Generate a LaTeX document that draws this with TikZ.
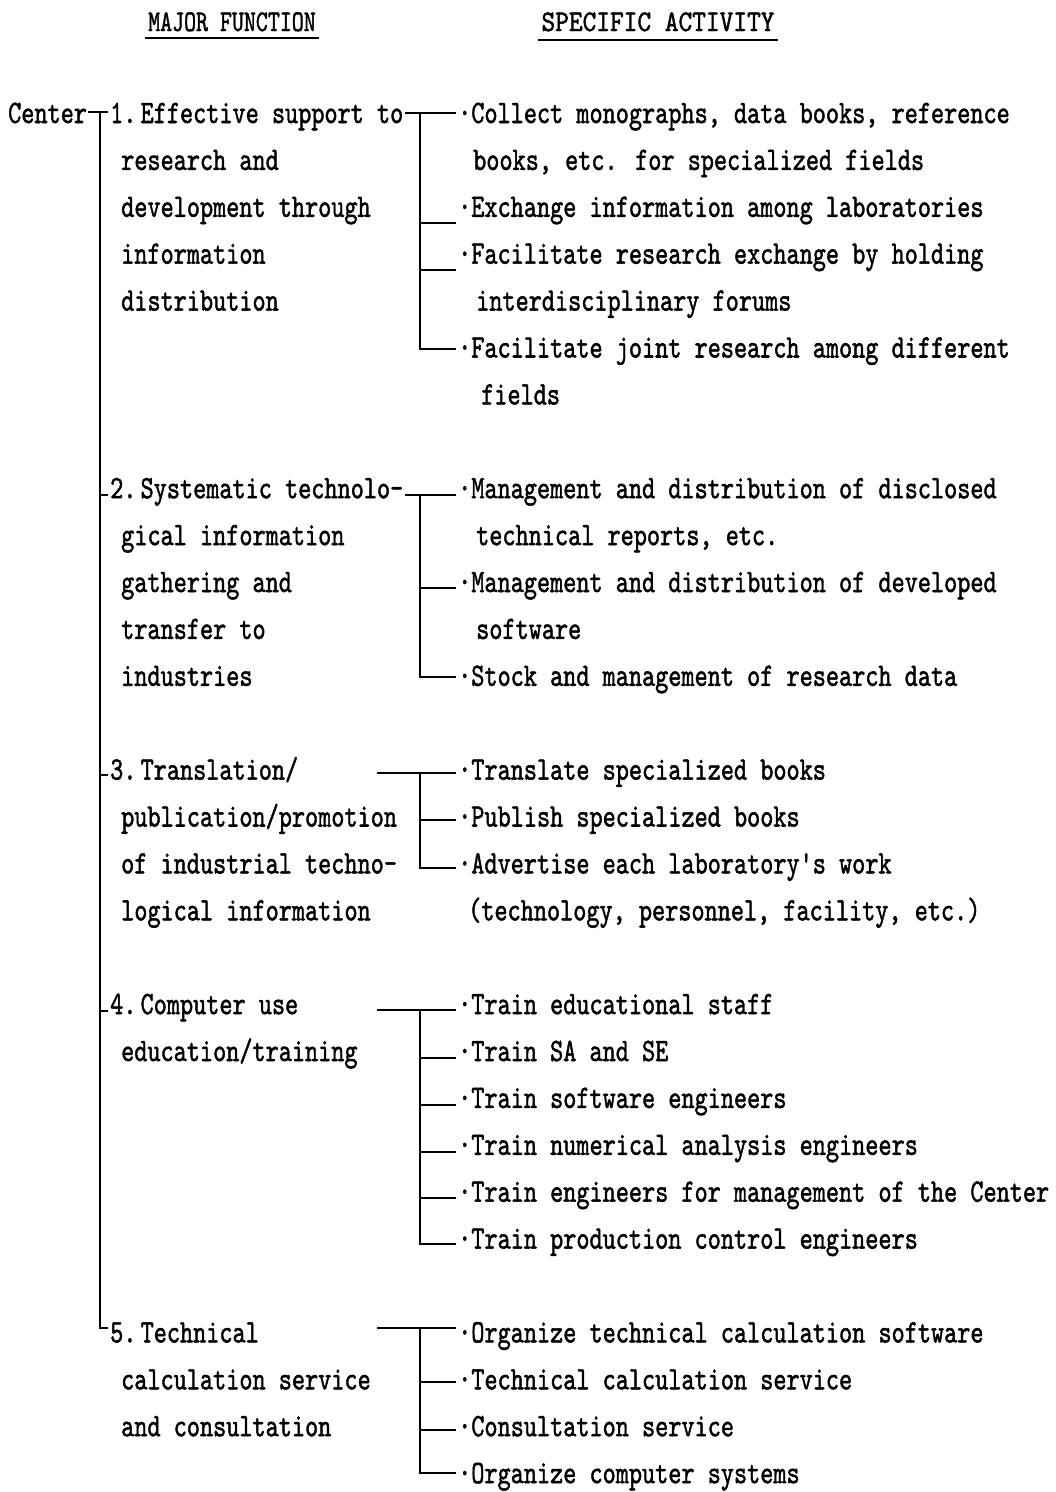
\documentclass[tikz,border=0pt]{standalone}
\usepackage{graphicx}
\usepackage{fontspec}
\newfontfamily\twfont{lmmono10-regular.otf}[FakeBold=1.6]
\newcommand\sx[1]{\scalebox{0.765}[1]{#1}}
\newcommand\hx[2]{\scalebox{#1}[1]{#2}}
\begin{document}
\begin{tikzpicture}[x=1pt,y=-1pt,
  txt/.style={anchor=base west, inner sep=0pt, font=\twfont\fontsize{32.7pt}{36pt}\selectfont},
  hdr/.style={anchor=base, inner sep=0pt, font=\twfont\fontsize{30pt}{32pt}\selectfont},
  vl/.style={line width=2.4pt, line cap=rect},
  hl/.style={line width=1.4pt},
  ul/.style={line width=1.3pt}]
\useasboundingbox (0,0) rectangle (1056,1492);
\fill[white] (0,0) rectangle (1056,1492);

% headers
\node[hdr] (h1) at (232,31) {\hx{0.76}{MAJOR FUNCTION}};
\node[hdr] (h2) at (658,31) {\hx{0.87}{SPECIFIC ACTIVITY}};
\draw[ul] ([shift={(-3pt,-7pt)}]h1.base west) -- ([shift={(3pt,-7pt)}]h1.base east);
\draw[ul] ([shift={(-3pt,-9pt)}]h2.base west) -- ([shift={(3pt,-9pt)}]h2.base east);

% left column
\node[txt] (center) at (8,123) {\sx{Center}};
\node[txt] (f1a) at (110,123) {\sx{1.\,Effective support to}};
\node[txt] (f1b) at (121,169.9) {\sx{research and}};
\node[txt] (f1c) at (121,216.8) {\sx{development through}};
\node[txt] (f1d) at (121,263.7) {\sx{information}};
\node[txt] (f1e) at (121,310.6) {\sx{distribution}};
\node[txt] (f2a) at (110,498.2) {\sx{2.\,Systematic technolo-}};
\node[txt] (f2b) at (121,545.1) {\sx{gical information}};
\node[txt] (f2c) at (121,592) {\sx{gathering and}};
\node[txt] (f2d) at (121,638.9) {\sx{transfer to}};
\node[txt] (f2e) at (121,685.8) {\sx{industries}};
\node[txt] (f3a) at (110,779.6) {\sx{3.\,Translation/}};
\node[txt] (f3b) at (121,826.5) {\sx{publication/promotion}};
\node[txt] (f3c) at (121,873.4) {\sx{of industrial techno-}};
\node[txt] (f3d) at (121,920.3) {\sx{logical information}};
\node[txt] (f4a) at (110,1014.1) {\sx{4.\,Computer use}};
\node[txt] (f4b) at (121,1061) {\sx{education/training}};
\node[txt] (f5a) at (110,1342.4) {\sx{5.\,Technical}};
\node[txt] (f5b) at (121,1389.3) {\sx{calculation service}};
\node[txt] (f5c) at (121,1436.2) {\sx{and consultation}};

% right column
\node[txt] (a11) at (458,123) {\sx{·Collect monographs, data books, reference}};
\node[txt] (a11b) at (473,169.9) {\sx{books, etc. for specialized fields}};
\node[txt] (a12) at (458,216.8) {\sx{·Exchange information among laboratories}};
\node[txt] (a13) at (458,263.7) {\sx{·Facilitate research exchange by holding}};
\node[txt] (a13b) at (476,310.6) {\sx{interdisciplinary forums}};
\node[txt] (a14) at (458,357.5) {\sx{·Facilitate joint research among different}};
\node[txt] (a14b) at (481,404.4) {\sx{fields}};
\node[txt] (a21) at (458,498.2) {\sx{·Management and distribution of disclosed}};
\node[txt] (a21b) at (476,545.1) {\sx{technical reports, etc.}};
\node[txt] (a22) at (458,592) {\sx{·Management and distribution of developed}};
\node[txt] (a22b) at (476,638.9) {\sx{software}};
\node[txt] (a23) at (458,685.8) {\sx{·Stock and management of research data}};
\node[txt] (a31) at (458,779.6) {\sx{·Translate specialized books}};
\node[txt] (a32) at (458,826.5) {\sx{·Publish specialized books}};
\node[txt] (a33) at (458,873.4) {\sx{·Advertise each laboratory's work}};
\node[txt] (a33b) at (468,920.3) {\sx{(technology, personnel, facility, etc.)}};
\node[txt] (a41) at (458,1014.1) {\sx{·Train educational staff}};
\node[txt] (a42) at (458,1061) {\sx{·Train SA and SE}};
\node[txt] (a43) at (458,1107.9) {\sx{·Train software engineers}};
\node[txt] (a44) at (458,1154.8) {\sx{·Train numerical analysis engineers}};
\node[txt] (a45) at (458,1201.7) {\sx{·Train engineers for management of the Center}};
\node[txt] (a46) at (458,1248.6) {\sx{·Train production control engineers}};
\node[txt] (a51) at (458,1342.4) {\sx{·Organize technical calculation software}};
\node[txt] (a52) at (458,1389.3) {\sx{·Technical calculation service}};
\node[txt] (a53) at (458,1436.2) {\sx{·Consultation service}};
\node[txt] (a54) at (458,1483.1) {\sx{·Organize computer systems}};

% main trunk
\coordinate (j0) at (100,112);
\coordinate (jb2) at (100,495);
\coordinate (jb3) at (100,775);
\coordinate (jb4) at (100,1011);
\coordinate (j5) at (100,1328);
\draw[hl] ([xshift=1pt]center.east |- j0) -- ([xshift=-2pt]f1a.west |- j0);
\draw[vl] (j0) -- (j5);
\draw[hl] (j5) -- ([xshift=-2pt]f5a.west |- j5);
\draw[hl] (jb2) -- ([xshift=-2pt]f2a.west |- jb2);
\draw[hl] (jb3) -- ([xshift=-2pt]f3a.west |- jb3);
\draw[hl] (jb4) -- ([xshift=-2pt]f4a.west |- jb4);

% group 1
\coordinate (g1t) at (420,113);
\coordinate (g1s2) at (420,223);
\coordinate (g1s3) at (420,270);
\coordinate (g1b) at (420,349);
\draw[hl] ([xshift=1pt]f1a.east |- g1t) -- ([xshift=-2pt]a11.west |- g1t);
\draw[vl] (g1t) -- (g1b);
\draw[hl] (g1b) -- ([xshift=-2pt]a14.west |- g1b);
\draw[hl] (g1s2) -- ([xshift=-2pt]a12.west |- g1s2);
\draw[hl] (g1s3) -- ([xshift=-2pt]a13.west |- g1s3);

% group 2
\coordinate (g2t) at (420,495);
\coordinate (g2s) at (420,588);
\coordinate (g2b) at (420,677);
\draw[hl] ([xshift=1pt]f2a.east |- g2t) -- ([xshift=-2pt]a21.west |- g2t);
\draw[vl] (g2t) -- (g2b);
\draw[hl] (g2b) -- ([xshift=-2pt]a23.west |- g2b);
\draw[hl] (g2s) -- ([xshift=-2pt]a22.west |- g2s);

% group 3
\coordinate (g3l) at (377,773);
\coordinate (g3t) at (420,773);
\coordinate (g3s) at (420,820);
\coordinate (g3b) at (420,868);
\draw[hl] (g3l) -- ([xshift=-2pt]a31.west |- g3l);
\draw[vl] (g3t) -- (g3b);
\draw[hl] (g3b) -- ([xshift=-2pt]a33.west |- g3b);
\draw[hl] (g3s) -- ([xshift=-2pt]a32.west |- g3s);

% group 4
\coordinate (g4l) at (377,1010);
\coordinate (g4t) at (420,1010);
\coordinate (g4s2) at (420,1058);
\coordinate (g4s3) at (420,1105);
\coordinate (g4s4) at (420,1152);
\coordinate (g4s5) at (420,1198);
\coordinate (g4b) at (420,1244);
\draw[hl] (g4l) -- ([xshift=-2pt]a41.west |- g4l);
\draw[vl] (g4t) -- (g4b);
\draw[hl] (g4b) -- ([xshift=-2pt]a46.west |- g4b);
\draw[hl] (g4s2) -- ([xshift=-2pt]a42.west |- g4s2);
\draw[hl] (g4s3) -- ([xshift=-2pt]a43.west |- g4s3);
\draw[hl] (g4s4) -- ([xshift=-2pt]a44.west |- g4s4);
\draw[hl] (g4s5) -- ([xshift=-2pt]a45.west |- g4s5);

% group 5
\coordinate (g5l) at (377,1328);
\coordinate (g5t) at (420,1328);
\coordinate (g5s2) at (420,1382);
\coordinate (g5s3) at (420,1430);
\coordinate (g5b) at (420,1473);
\draw[hl] (g5l) -- ([xshift=-2pt]a51.west |- g5l);
\draw[vl] (g5t) -- (g5b);
\draw[hl] (g5b) -- ([xshift=-2pt]a54.west |- g5b);
\draw[hl] (g5s2) -- ([xshift=-2pt]a52.west |- g5s2);
\draw[hl] (g5s3) -- ([xshift=-2pt]a53.west |- g5s3);
\end{tikzpicture}
\end{document}
